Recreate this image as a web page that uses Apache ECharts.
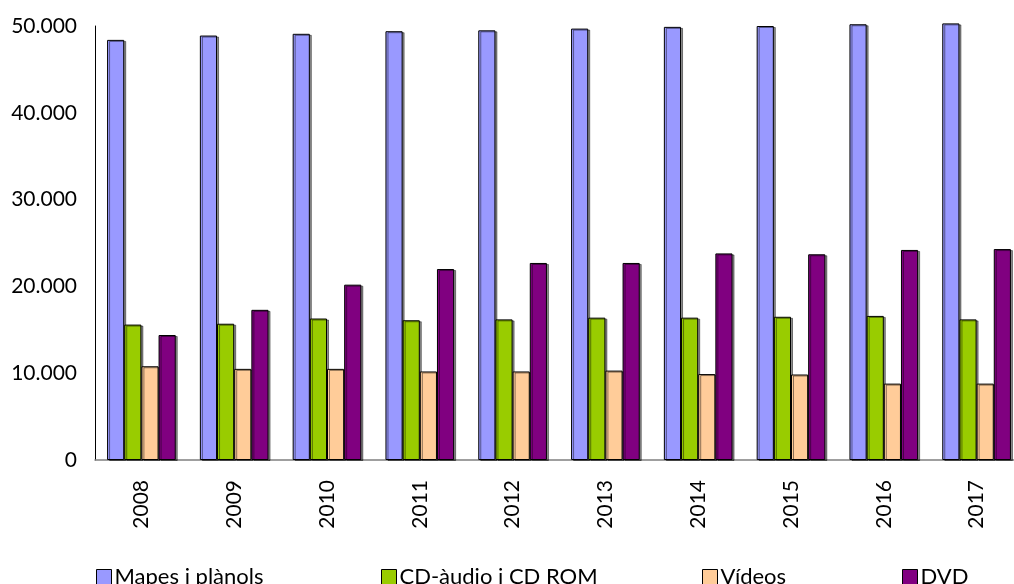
<!DOCTYPE html>
<html>
<head>
<meta charset="utf-8">
<script src="https://cdn.jsdelivr.net/npm/echarts@6/dist/echarts.min.js"></script>
<style>
    html, body { margin: 0; padding: 0; background: #fff; }
    #chart { width: 1014px; height: 584px; }
</style>
</head>
<body>
<div id="chart"></div>
<script>
    var years = ['2008', '2009', '2010', '2011', '2012', '2013', '2014', '2015', '2016', '2017'];
    var seriesNames = ['Mapes i plànols', 'CD-àudio i CD ROM', 'Vídeos', 'DVD'];
    var mapes = [48400, 48900, 49100, 49400, 49500, 49700, 49900, 50000, 50200, 50300];
    var cdAudio = [15600, 15700, 16300, 16100, 16200, 16400, 16400, 16500, 16600, 16200];
    var videos = [10800, 10500, 10500, 10200, 10200, 10300, 9900, 9850, 8800, 8800];
    var dvd = [14400, 17300, 20200, 22000, 22700, 22700, 23800, 23700, 24200, 24300];
    var yTicks = [0, 10000, 20000, 30000, 40000, 50000];

    var colors = ['#9999ff', '#99cc00', '#ffcc99', '#800080'];
    var fontFam = 'Lato, "Open Sans", sans-serif';

    function fmt(v) {
        // punt com a separador de milers
        return String(v).replace(/\B(?=(\d{3})+(?!\d))/g, '.');
    }

    function barSeries(name, data) {
        return {
            name: name,
            type: 'bar',
            clip: false,
            barGap: '0%',
            barCategoryGap: '26%',
            itemStyle: {
                borderColor: '#000',
                borderWidth: 1,
                shadowColor: 'rgba(0,0,0,0.45)',
                shadowOffsetX: 2,
                shadowOffsetY: 1,
                shadowBlur: 0
            },
            data: data
        };
    }

    var legendLeft = [91, 376, 697, 897];
    var legends = seriesNames.map(function (n, i) {
        return {
            data: [n],
            left: legendLeft[i],
            top: 561,
            itemWidth: 15,
            itemHeight: 15,
            itemGap: 6,
            icon: 'rect',
            itemStyle: { borderColor: '#000', borderWidth: 1 },
            textStyle: { fontFamily: fontFam, fontSize: 22, color: '#000', padding: [0, 0, 0, -2] }
        };
    });

    var chart = echarts.init(document.getElementById('chart'));
    chart.setOption({
        animation: false,
        color: colors,
        legend: legends,
        grid: { left: 95, top: 26, width: 928, height: 434, outerBoundsMode: 'none' },
        xAxis: {
            type: 'category',
            data: years,
            axisLine: { lineStyle: { color: '#808080', width: 1.5 } },
            axisTick: { show: false },
            axisLabel: {
                rotate: 90,
                margin: 20,
                fontFamily: fontFam,
                fontSize: 21,
                color: '#000'
            }
        },
        yAxis: {
            type: 'value',
            min: yTicks[0],
            max: yTicks[yTicks.length - 1],
            interval: yTicks[1] - yTicks[0],
            axisLine: { show: true, lineStyle: { color: '#000', width: 1 } },
            axisTick: { show: false },
            splitLine: { show: false },
            axisLabel: {
                margin: 18,
                fontFamily: fontFam,
                fontSize: 21,
                color: '#000',
                formatter: function (v) { return fmt(v); }
            }
        },
        series: [
            barSeries(seriesNames[0], mapes),
            barSeries(seriesNames[1], cdAudio),
            barSeries(seriesNames[2], videos),
            barSeries(seriesNames[3], dvd)
        ]
    });
</script>
</body>
</html>
